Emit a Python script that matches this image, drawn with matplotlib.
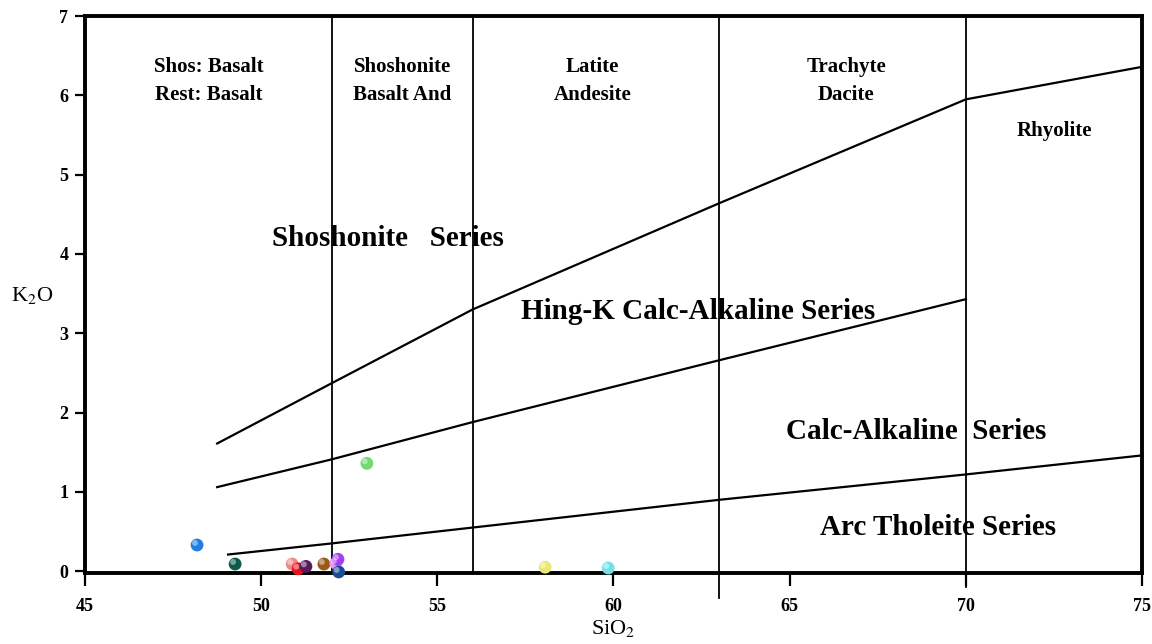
import matplotlib
matplotlib.use("Agg")
import matplotlib.pyplot as plt
import matplotlib.transforms as mtransforms

# Boundary lines (SiO2, K2O)
shos_x = [48.75, 52, 56, 63, 70, 75]
shos_y = [1.61, 2.37, 3.30, 4.64, 5.95, 6.36]

hk_x = [48.75, 52, 56, 63, 70]
hk_y = [1.06, 1.41, 1.88, 2.66, 3.43]

ca_x = [49.06, 52, 56, 63, 70, 75]
ca_y = [0.21, 0.35, 0.55, 0.90, 1.22, 1.46]

# vertical rock-name dividers and how far they run below the axis
div_x = [52, 56, 63, 70]
div_low = [0, 0, -0.34, -0.2]

# samples
sio2 = [48.18, 49.26, 50.88, 51.05, 51.27, 51.78, 52.12, 52.18, 52.2, 53.0, 58.06, 59.85]
k2o = [0.33, 0.09, 0.09, 0.03, 0.06, 0.09, 0.10, 0.15, -0.01, 1.36, 0.05, 0.04]
colors = ["#1f7ee0", "#0d5a4c", "#f08888", "#e8141c", "#5a1a5e", "#9a5a14",
          "#f094f0", "#a040f0", "#1a4e92", "#72d872", "#e8e872", "#72e0e8"]

plt.rcParams['font.family'] = ['Liberation Serif', 'DejaVu Serif']
plt.rcParams['mathtext.fontset'] = 'stix'

fig = plt.figure(figsize=(11.52, 6.44), dpi=100)
ax = fig.add_axes([0.0738, 0.110, 0.9175, 0.865])

ax.plot(shos_x, shos_y, color="black", lw=1.6)
ax.plot(hk_x, hk_y, color="black", lw=1.6)
ax.plot(ca_x, ca_y, color="black", lw=1.6)
for x, lo in zip(div_x, div_low):
    ax.plot([x, x], [lo, 7], color="black", lw=1.3, clip_on=False)

ax.scatter(sio2, k2o, s=85, c=colors, edgecolors="none", zorder=5, clip_on=False)
# little shine on the spheres
shine = mtransforms.offset_copy(ax.transData, fig=fig, x=-1.5, y=1.5, units="points")
ax.scatter(sio2, k2o, s=18, c="white", alpha=0.45, edgecolors="none",
           zorder=6, transform=shine, clip_on=False)

ax.set_xlim(45, 75)
ax.set_ylim(-0.025, 7)
ax.set_xticks([45, 50, 55, 60, 65, 70, 75])
ax.set_yticks(range(8))
for s in ax.spines.values():
    s.set_linewidth(2.8)
ax.tick_params(axis="x", length=9, width=1.6, pad=9, labelsize=13)
ax.tick_params(axis="y", length=7, width=1.6, pad=5, labelsize=13)
for lab in ax.get_xticklabels() + ax.get_yticklabels():
    lab.set_fontweight("bold")

ax.set_xlabel("SiO$_2$", fontsize=16, labelpad=2)
ax.set_ylabel("K$_2$O", fontsize=16, rotation=0)
ax.yaxis.set_label_coords(-0.05, 0.48)

small = dict(fontsize=15, fontweight="bold", ha="center", va="center", linespacing=1.55)
ax.text(48.5, 6.18, "Shos: Basalt\nRest: Basalt", **small)
ax.text(54.0, 6.18, "Shoshonite\nBasalt And", **small)
ax.text(59.4, 6.18, "Latite\nAndesite", **small)
ax.text(66.6, 6.18, "Trachyte\nDacite", **small)
ax.text(72.5, 5.55, "Rhyolite", **small)

big = dict(fontsize=21, fontweight="bold", ha="center", va="center")
ax.text(53.6, 4.2, "Shoshonite   Series", **big)
ax.text(62.4, 3.28, "Hing-K Calc-Alkaline Series", **big)
ax.text(68.6, 1.76, "Calc-Alkaline  Series", **big)
ax.text(69.2, 0.55, "Arc Tholeite Series", **big)

fig.savefig("out.png", dpi=100)
